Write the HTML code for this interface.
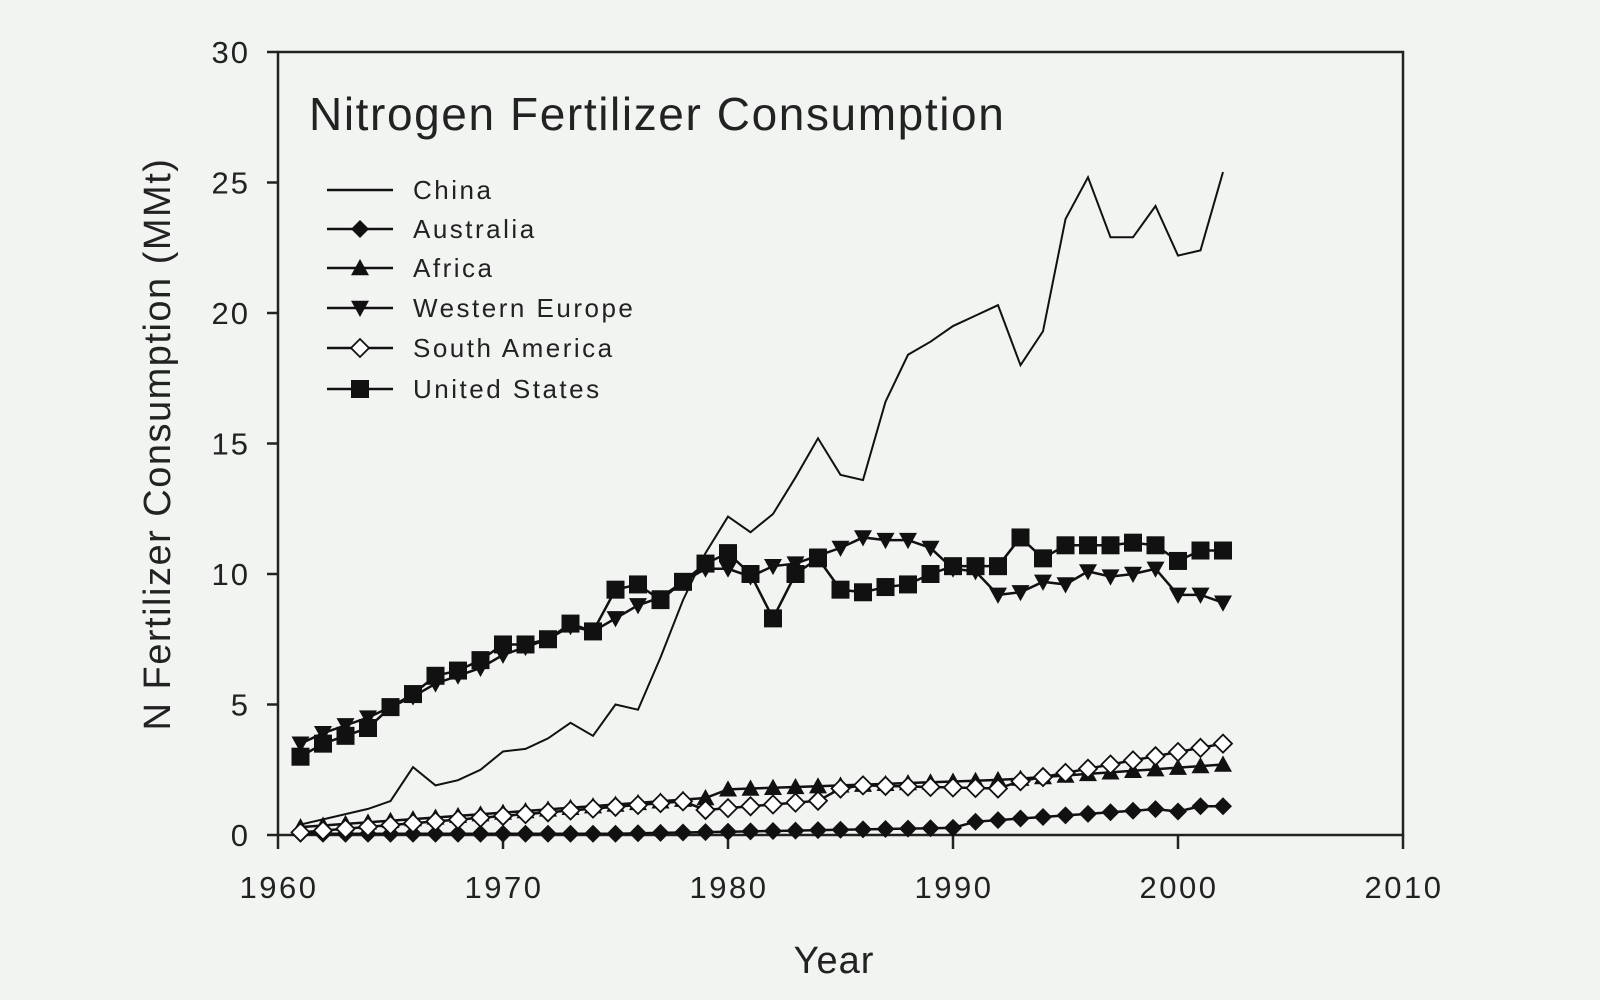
<!DOCTYPE html>
<html><head><meta charset="utf-8"><style>
html,body{margin:0;padding:0;background:#f2f4f2;}
svg{display:block}
text{font-family:"Liberation Sans",sans-serif;fill:#222}
</style></head><body>
<svg id="s" width="1600" height="1000" xmlns="http://www.w3.org/2000/svg">
<rect width="1600" height="1000" fill="#f2f4f2"/>
<g id="g"></g>
</svg>
<script>
const NS="http://www.w3.org/2000/svg",g=document.getElementById('g');
function el(t,a,txt){const e=document.createElementNS(NS,t);for(const k in a)e.setAttribute(k,a[k]);if(txt!=null)e.textContent=txt;g.appendChild(e);return e;}
const X0=278,X1=1403,Y0=835,Y1=52;
const X=y=>X0+(y-1960)*(X1-X0)/50, Y=v=>Y0-v*(Y0-Y1)/30;
el('path',{d:`M${X0} ${Y1}H${X1}V${Y0}H${X0}Z`,fill:'none',stroke:'#222','stroke-width':2.5});
for(let v=0;v<=30;v+=5){el('line',{x1:X0-11,x2:X0,y1:Y(v),y2:Y(v),stroke:'#222','stroke-width':2.5});
el('text',{x:250,y:Y(v)+11,'text-anchor':'end','font-size':31,'letter-spacing':2},v);}
for(let yr=1960;yr<=2010;yr+=10){el('line',{x1:X(yr),x2:X(yr),y1:Y0,y2:Y0+14,stroke:'#222','stroke-width':2.5});
el('text',{x:X(yr)+1,y:898,'text-anchor':'middle','font-size':31,'letter-spacing':2.5},yr);}
el('text',{x:834,y:973,'text-anchor':'middle','font-size':38,'letter-spacing':1},'Year');
el('text',{x:0,y:0,'text-anchor':'middle','font-size':38,'letter-spacing':1.5,transform:'translate(170,444) rotate(-90)'},'N Fertilizer Consumption (MMt)');
el('text',{x:309,y:130,'font-size':46,'letter-spacing':1.6},'Nitrogen Fertilizer Consumption');
const yrs=[];for(let y=1961;y<=2002;y++)yrs.push(y);
const china=[0.4,0.6,0.8,1.0,1.3,2.6,1.9,2.1,2.5,3.2,3.3,3.7,4.3,3.8,5.0,4.8,6.8,9.0,10.8,12.2,11.6,12.3,13.7,15.2,13.8,13.6,16.6,18.4,18.9,19.5,19.9,20.3,18.0,19.3,23.6,25.2,22.9,22.9,24.1,22.2,22.4,25.4];
const us=[3.0,3.5,3.8,4.1,4.9,5.4,6.1,6.3,6.7,7.3,7.3,7.5,8.1,7.8,9.4,9.6,9.0,9.7,10.4,10.8,10.0,8.3,10.0,10.6,9.4,9.3,9.5,9.6,10.0,10.3,10.3,10.3,11.4,10.6,11.1,11.1,11.1,11.2,11.1,10.5,10.9,10.9];
const we=[3.5,3.9,4.2,4.5,4.9,5.3,5.8,6.1,6.4,6.9,7.2,7.5,8.0,7.8,8.3,8.8,9.1,9.7,10.2,10.2,9.9,10.3,10.4,10.7,11.0,11.4,11.3,11.3,11.0,10.2,10.1,9.2,9.3,9.7,9.6,10.1,9.9,10.0,10.2,9.2,9.2,8.9];
const sa=yrs.map((y,i)=>{let v=0.1+i*0.07; if(y>=1979&&y<=1984)v-=0.4; if(y>=1986&&y<=1992)v=1.9-(y-1986)*0.02; if(y>1992)v=1.9+(y-1992)*0.16; return v;});
const af=yrs.map((y,i)=>{let v=0.3+i*0.062; if(y>=1980&&y<=1992)v=1.75+(y-1980)*0.03; if(y>1992)v=2.1+(y-1992)*0.06; return v;});
const au=yrs.map((y,i)=>{let v=0.05+Math.max(0,y-1975)*0.015; if(y>1990)v=0.45+(y-1990)*0.06; if(y==2000)v=0.9; if(y>=1999)v=Math.min(v,1.1); return v;});
function line(d,w){el('polyline',{points:yrs.map((y,i)=>X(y)+','+Y(d[i])).join(' '),fill:'none',stroke:'#111','stroke-width':w});}
function mk(t,x,y,s){s=s||9;
 if(t=='d')el('path',{d:`M${x} ${y-s}L${x+s} ${y}L${x} ${y+s}L${x-s} ${y}Z`,fill:'#111'});
 if(t=='o')el('path',{d:`M${x} ${y-s}L${x+s} ${y}L${x} ${y+s}L${x-s} ${y}Z`,fill:'#fff',stroke:'#111','stroke-width':1.8});
 if(t=='u')el('path',{d:`M${x} ${y-s}L${x+s} ${y+s*0.8}L${x-s} ${y+s*0.8}Z`,fill:'#111'});
 if(t=='v')el('path',{d:`M${x} ${y+s}L${x+s} ${y-s*0.8}L${x-s} ${y-s*0.8}Z`,fill:'#111'});
 if(t=='s')el('rect',{x:x-s,y:y-s,width:2*s,height:2*s,fill:'#111'});}
function series(d,t){line(d,2.5);yrs.forEach((y,i)=>mk(t,X(y),Y(d[i])));}
series(au,'d');series(af,'u');series(sa,'o');
line(china,2);
series(we,'v');series(us,'s');
const L=[['China',''],['Australia','d'],['Africa','u'],['Western Europe','v'],['South America','o'],['United States','s']];
const ly=[190,229,268,308,348,389];
L.forEach((l,i)=>{const y=ly[i];el('line',{x1:327,x2:393,y1:y,y2:y,stroke:'#111','stroke-width':2.5});if(l[1])mk(l[1],360,y);
el('text',{x:413,y:y+9,'font-size':26,'letter-spacing':2.5},l[0]);});
</script>
</body></html>
